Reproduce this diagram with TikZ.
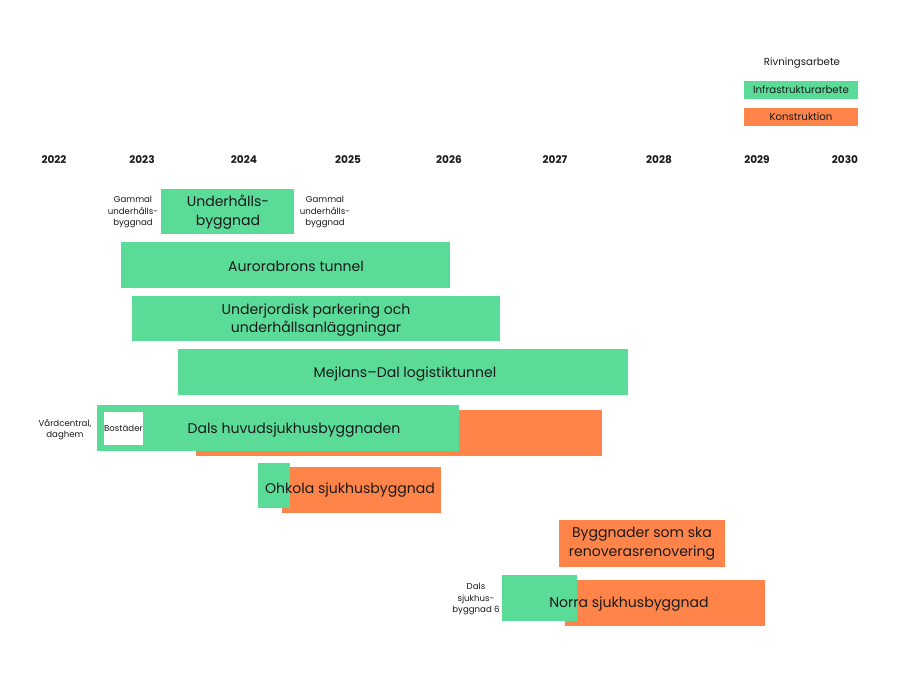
\documentclass[tikz,border=0pt]{standalone}
\usepackage{fontspec}
\setmainfont{Poppins}
\usetikzlibrary{fit, positioning}
\definecolor{planinfra}{HTML}{5ADB98}
\definecolor{plankonst}{HTML}{FF844A}
\definecolor{plantext}{HTML}{1A1A1A}

\begin{document}
\begin{tikzpicture}[x=0.02cm, y=-0.02cm,
    infra/.style={fill=planinfra, inner sep=0pt},
    konst/.style={fill=plankonst, inner sep=0pt},
    bartext/.style={font=\fontsize{8}{10.6}\selectfont, color=plantext, align=center},
    sidetext/.style={font=\fontsize{4.9}{6.4}\selectfont, color=plantext, align=center},
    yeartext/.style={font=\fontsize{6}{7}\selectfont\bfseries, color=plantext, text height=1.6ex, text depth=0.2ex}]
  \useasboundingbox (0,0) rectangle (900,675);
  % legend
  \node[sidetext, font=\fontsize{5.8}{7}\selectfont] (rivning) at (802,63) {Rivningsarbete};
  \node[infra, fit={(744,81) (858,99)}] (infrabox) {};
  \node[sidetext, font=\fontsize{5.8}{7}\selectfont] (infralbl) at (infrabox.center) {Infrastrukturarbete};
  \node[konst, fit={(744,108) (858,126)}] (konstbox) {};
  \node[sidetext, font=\fontsize{5.8}{7}\selectfont] (konstlbl) at (konstbox.center) {Konstruktion};
  % years
  \foreach \yr/\xx in {2022/54, 2023/142, 2024/244, 2025/348, 2026/449, 2027/555, 2028/659, 2029/757, 2030/845} {
    \node[yeartext] (y\yr) at (\xx,157) {\yr};
  }
  % underhallsbyggnad
  \node[infra, fit={(161,189) (294,234)}] (underhall) {};
  \node[bartext] (underhalllbl) at (228,212) {Underhålls-\\byggnad};
  \node[sidetext] (gammalv) at (133,212) {Gammal\\underhålls-\\byggnad};
  \node[sidetext] (gammalh) at (325,212) {Gammal\\underhålls-\\byggnad};
  % tunnlar
  \node[infra, fit={(121,242) (450,288)}] (aurora) {};
  \node[bartext] (auroralbl) at (296,266) {Aurorabrons tunnel};
  \node[infra, fit={(132,296) (500,341)}] (parkering) {};
  \node[bartext] (parkeringlbl) at (316,320) {Underjordisk parkering och\\underhållsanläggningar};
  \node[infra, fit={(178,349) (628,395)}] (mejlans) {};
  \node[bartext] (mejlanslbl) at (405,374) {Mejlans–Dal logistiktunnel};
  % dals huvudsjukhusbyggnad
  \node[konst, fit={(196,410) (602,456)}] (dalskonst) {};
  \node[infra, fit={(97,405) (459,451)}] (dalsinfra) {};
  \node[fill=white, inner sep=0pt, fit={(104,412) (143,445)}] (bostader) {};
  \node[sidetext] (bostaderlbl) at (bostader.center) {Bostäder};
  \node[bartext] (dalslbl) at (294,430) {Dals huvudsjukhusbyggnaden};
  \node[sidetext] (vard) at (65,430) {Vårdcentral,\\daghem};
  % ohkola
  \node[konst, fit={(282,467) (441,513)}] (ohkolakonst) {};
  \node[infra, fit={(258,463) (290,508)}] (ohkolainfra) {};
  \node[bartext] (ohkolalbl) at (350,490) {Ohkola sjukhusbyggnad};
  % renovering
  \node[konst, fit={(559,520) (725,567)}] (renov) {};
  \node[bartext] (renovlbl) at (642,544) {Byggnader som ska\\renoverasrenovering};
  % norra
  \node[konst, fit={(565,580) (765,626)}] (norrakonst) {};
  \node[infra, fit={(502,575) (577,621)}] (norrainfra) {};
  \node[bartext] (norralbl) at (629,604) {Norra sjukhusbyggnad};
  \node[sidetext] (dals6) at (476,599) {Dals\\sjukhus-\\byggnad 6};
\end{tikzpicture}
\end{document}
